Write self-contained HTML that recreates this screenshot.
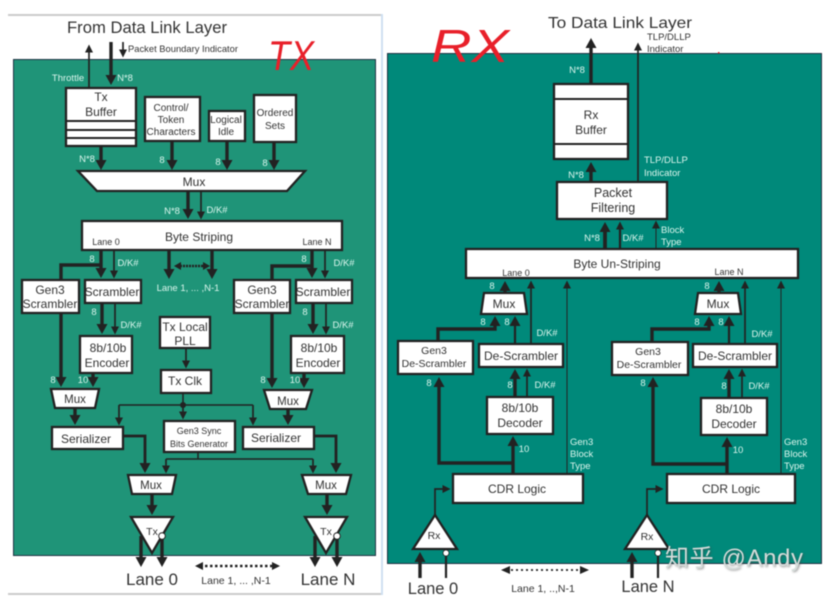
<!DOCTYPE html>
<html><head><meta charset="utf-8">
<style>
html,body{margin:0;padding:0;background:#fff;width:836px;height:610px;overflow:hidden}
svg{display:block;filter:blur(.45px)}
text{font-family:"Liberation Sans","Noto Sans CJK SC",sans-serif;fill:#333;text-anchor:middle}
.b{fill:#fff;stroke:#222;stroke-width:2.300}
.w{fill:#d9f5ec;font-size:9.500px}
.l{text-anchor:start}
.a3{stroke:#222;stroke-width:3.400;fill:none;marker-end:url(#a)}
.a2{stroke:#222;stroke-width:1.700;fill:none;marker-end:url(#s)}
.n3{stroke:#222;stroke-width:3.400;fill:none}
.n2{stroke:#222;stroke-width:1.500;fill:none}
</style></head><body>
<svg width="836" height="610" viewBox="0 0 836 610" xmlns="http://www.w3.org/2000/svg">
<defs>
<marker id="a" markerUnits="userSpaceOnUse" markerWidth="11" markerHeight="12" refX="6" refY="6" orient="auto"><path d="M0 .5L10 6L0 11.500Z" fill="#222"/></marker>
<marker id="s" markerUnits="userSpaceOnUse" markerWidth="9" markerHeight="9" refX="3.500" refY="4.500" orient="auto"><path d="M0 .5L8 4.500L0 8.500Z" fill="#222"/></marker>
</defs>
<rect x="8" y="14" width="375" height="2" fill="#ccc"/>
<rect x="8" y="593" width="375" height="2" fill="#ccc"/>
<rect x="381" y="14" width="2" height="581" fill="#cfe0f2"/>
<rect x="13.500" y="59.500" width="362" height="496" fill="#1f9478" stroke="#234" stroke-width="1"/>
<rect x="387.500" y="53.500" width="434" height="510" fill="#00897a" stroke="#234" stroke-width="1"/>

<!-- LEFT TX -->
<text x="147" y="33" font-size="16.500" textLength="160" lengthAdjust="spacingAndGlyphs">From Data Link Layer</text>
<text x="183" y="52" font-size="9.500" textLength="110" lengthAdjust="spacingAndGlyphs">Packet Boundary Indicator</text>
<g>
<line x1="89" y1="88" x2="89" y2="49" class="a2"/>
<line x1="111" y1="42" x2="111" y2="81" class="a3"/>
<line x1="123" y1="42" x2="123" y2="53" class="a2"/>
<line x1="101" y1="146" x2="101" y2="166" class="a3"/>
<line x1="172" y1="141" x2="172" y2="166" class="a3"/>
<line x1="227" y1="141" x2="227" y2="166" class="a3"/>
<line x1="274" y1="142" x2="274" y2="166" class="a3"/>
<line x1="188" y1="191" x2="188" y2="215" class="a3"/>
<line x1="201" y1="191" x2="201" y2="215" class="a2"/>
<line x1="101" y1="250" x2="101" y2="274" class="a3"/>
<path d="M101 265H61V280" class="n3"/>
<line x1="114" y1="250" x2="114" y2="274" class="a2"/>
<line x1="169" y1="251" x2="169" y2="275" class="a3"/>
<line x1="212" y1="251" x2="212" y2="275" class="a3"/>
<line x1="312" y1="250" x2="312" y2="274" class="a3"/>
<path d="M312 266H272V280" class="n3"/>
<line x1="325" y1="250" x2="325" y2="274" class="a2"/>
<line x1="61" y1="313" x2="61" y2="383" class="a3"/>
<line x1="272" y1="313" x2="272" y2="384" class="a3"/>
<line x1="102" y1="303" x2="102" y2="330" class="a3"/>
<line x1="115" y1="303" x2="115" y2="330" class="a2"/>
<line x1="313" y1="303" x2="313" y2="330" class="a3"/>
<line x1="326" y1="303" x2="326" y2="330" class="a2"/>
<line x1="93" y1="373" x2="93" y2="383" class="a3"/>
<line x1="304" y1="373" x2="304" y2="384" class="a3"/>
<line x1="75" y1="408" x2="75" y2="421" class="a3"/>
<line x1="288" y1="409" x2="288" y2="421" class="a3"/>
<line x1="186" y1="348" x2="186" y2="364" class="a2"/>
<path d="M183 393V405M119 405H253" class="n2"/>
<line x1="119" y1="405" x2="119" y2="421" class="a2"/>
<line x1="253" y1="405" x2="253" y2="421" class="a2"/>
<line x1="183" y1="405" x2="183" y2="415" class="a2"/>
<circle cx="183" cy="405" r="3" fill="#222"/>
<path d="M123 436H145V469" class="a3" style="stroke-width:2.800"/>
<path d="M314 436H336V469" class="a3" style="stroke-width:2.800"/>
<path d="M198 452V459M166 459H313" class="n2"/>
<line x1="166" y1="459" x2="166" y2="469" class="a2"/>
<line x1="313" y1="459" x2="313" y2="469" class="a2"/>
<line x1="152" y1="494" x2="152" y2="511" class="a3"/>
<line x1="327" y1="494" x2="327" y2="511" class="a3"/>
</g>
<rect class="b" x="66" y="88" width="70" height="58"/>
<path d="M66 121H136M66 130H136M66 138H136" stroke="#222" stroke-width="2" fill="none"/>
<rect class="b" x="145" y="97" width="55" height="44"/>
<rect class="b" x="209" y="111" width="36" height="30"/>
<rect class="b" x="254" y="95" width="42" height="47"/>
<polygon class="b" points="78,171 305,171 287,191 97,191"/>
<rect class="b" x="82" y="221" width="260" height="29"/>
<rect class="b" x="22" y="280" width="57" height="33"/>
<rect class="b" x="85" y="280" width="56" height="23"/>
<rect class="b" x="234" y="280" width="56" height="33"/>
<rect class="b" x="296" y="280" width="56" height="23"/>
<rect class="b" x="160" y="317" width="50" height="31"/>
<rect class="b" x="161" y="370" width="50" height="23"/>
<rect class="b" x="80" y="336" width="52" height="37"/>
<rect class="b" x="291" y="336" width="53" height="37"/>
<polygon class="b" points="51,389 99,389 95,408 55,408"/>
<polygon class="b" points="264,390 312,390 306,409 270,409"/>
<rect class="b" x="52" y="427" width="71" height="22"/>
<rect class="b" x="243" y="427" width="71" height="22"/>
<rect class="b" x="164" y="421" width="71" height="31"/>
<polygon class="b" points="128,475 176,475 172,494 132,494"/>
<polygon class="b" points="302,475 351,475 346,494 308,494"/>
<polygon class="b" points="131,517 173,517 152,553"/>
<polygon class="b" points="305,517 347,517 326,553"/>
<line x1="141" y1="536" x2="141" y2="563" class="a3"/>
<line x1="162" y1="536" x2="162" y2="563" class="a3"/>
<line x1="315" y1="536" x2="315" y2="563" class="a3"/>
<line x1="337" y1="536" x2="337" y2="563" class="a3"/>
<circle cx="162" cy="536" r="3.300" fill="#fff" stroke="#222"/>
<circle cx="337" cy="536" r="3.300" fill="#fff" stroke="#222"/>
<g font-size="12">
<text x="101" y="101">Tx</text><text x="101" y="116">Buffer</text>
<text x="171" y="111" font-size="10">Control/</text><text x="171" y="123" font-size="10">Token</text><text x="171" y="135" font-size="10">Characters</text>
<text x="226" y="123" font-size="10">Logical</text><text x="226" y="135" font-size="10">Idle</text>
<text x="275" y="116" font-size="10">Ordered</text><text x="275" y="129" font-size="10">Sets</text>
<text x="194" y="186">Mux</text>
<text x="199" y="241">Byte Striping</text>
<text x="106" y="245" font-size="9">Lane 0</text><text x="317" y="245" font-size="9">Lane N</text>
<text x="50" y="294">Gen3</text><text x="50" y="308">Scrambler</text>
<text x="112" y="296">Scrambler</text>
<text x="262" y="294">Gen3</text><text x="262" y="308">Scrambler</text>
<text x="323" y="296">Scrambler</text>
<text x="185" y="331">Tx Local</text><text x="185" y="345">PLL</text>
<text x="185" y="385">Tx Clk</text>
<text x="108" y="352">8b/10b</text><text x="107" y="367">Encoder</text>
<text x="319" y="352">8b/10b</text><text x="318" y="367">Encoder</text>
<text x="75" y="403" font-size="11.500">Mux</text><text x="288" y="405" font-size="11.500">Mux</text>
<text x="86" y="443">Serializer</text><text x="276" y="442">Serializer</text>
<text x="199" y="434" font-size="9">Gen3 Sync</text><text x="199" y="447" font-size="9">Bits Generator</text>
<text x="151" y="489" font-size="11.500">Mux</text><text x="326" y="489" font-size="11.500">Mux</text>
<text x="152" y="535" font-size="10.500">Tx</text><text x="326" y="535" font-size="10.500">Tx</text>
<text x="152" y="585" font-size="17">Lane 0</text><text x="328" y="585" font-size="17">Lane N</text>
<text x="236" y="584" font-size="10.500">Lane 1, ... ,N-1</text>
</g>
<g class="w">
<text class="w" x="68" y="81">Throttle</text>
<text class="w" x="125" y="81">N*8</text>
<text class="w" x="87" y="162">N*8</text>
<text class="w" x="162" y="163">8</text><text class="w" x="218" y="165">8</text><text class="w" x="265" y="166">8</text>
<text class="w" x="172" y="214">N*8</text><text class="w" x="217" y="213">D/K#</text>
<text class="w" x="92" y="262">8</text><text class="w" x="128" y="266">D/K#</text>
<text class="w" x="304" y="262">8</text><text class="w" x="344" y="266">D/K#</text>
<text class="w" x="188" y="291">Lane 1, ... ,N-1</text>
<text class="w" x="94" y="315">8</text><text class="w" x="131" y="328">D/K#</text>
<text class="w" x="305" y="315">8</text><text class="w" x="343" y="328">D/K#</text>
<text class="w" x="53" y="383">8</text><text class="w" x="83" y="383">10</text>
<text class="w" x="263" y="383">8</text><text class="w" x="295" y="383">10</text>
</g>
<path d="M180 266H204" stroke="#222" stroke-width="2.500" stroke-dasharray="2 1"/>
<path d="M174 266L181 262V270ZM210 266L203 262V270Z" fill="#222"/>
<path d="M200 566H274" stroke="#222" stroke-width="2.500" stroke-dasharray="2.500 2.500"/>
<path d="M195 566L203 562V570ZM280 566L272 562V570Z" fill="#222"/>

<!-- RIGHT RX -->
<text x="620" y="28" font-size="16" textLength="144" lengthAdjust="spacingAndGlyphs">To Data Link Layer</text>
<text class="l" x="647" y="40" font-size="9.500">TLP/DLLP</text>
<text class="l" x="647" y="52" font-size="9.500">Indicator</text>
<line x1="591" y1="84" x2="591" y2="42" class="a3"/>
<line x1="638" y1="182" x2="638" y2="47" class="a2"/>
<line x1="591" y1="182" x2="591" y2="166" class="a3"/>
<line x1="605" y1="249" x2="605" y2="226" class="a3" style="stroke-width:3.800"/>
<line x1="620" y1="249" x2="620" y2="226" class="a2" style="stroke-width:2.200"/>
<line x1="656" y1="249" x2="656" y2="225" class="a2" style="stroke-width:1"/>
<line x1="505" y1="292" x2="505" y2="285" class="a3"/>
<line x1="531" y1="344" x2="531" y2="285" class="a2"/>
<line x1="567" y1="474" x2="567" y2="285" class="a2" style="stroke-width:1"/>
<line x1="719" y1="292" x2="719" y2="285" class="a3"/>
<line x1="745" y1="344" x2="745" y2="285" class="a2"/>
<line x1="781" y1="474" x2="781" y2="285" class="a2" style="stroke-width:1"/>
<path d="M438 341V329H495V320" class="a3"/>
<line x1="515" y1="344" x2="515" y2="320" class="a3" style="stroke-width:2.200"/>
<path d="M652 342V329H709V320" class="a3"/>
<line x1="729" y1="344" x2="729" y2="320" class="a3" style="stroke-width:2.200"/>
<line x1="515" y1="397" x2="515" y2="373" class="a3"/>
<line x1="527" y1="397" x2="527" y2="373" class="a2"/>
<line x1="729" y1="398" x2="729" y2="373" class="a3"/>
<line x1="742" y1="398" x2="742" y2="373" class="a2"/>
<line x1="513" y1="474" x2="513" y2="440" class="a3"/>
<line x1="727" y1="474" x2="727" y2="441" class="a3"/>
<path d="M513 463H439V381" class="a3"/>
<path d="M727 464H653V381" class="a3"/>
<path d="M435 515V489H446" class="a2"/>
<path d="M647 515V489H659" class="a2"/>
<rect class="b" x="554" y="84" width="74" height="75"/>
<path d="M554 99H628M554 144H628" stroke="#222" stroke-width="2" fill="none"/>
<rect class="b" x="557" y="182" width="110" height="37"/>
<rect class="b" x="466" y="249" width="332" height="29"/>
<polygon class="b" points="484,293 524,293 527,314 481,314"/>
<polygon class="b" points="698,293 738,293 741,314 695,314"/>
<rect class="b" x="398" y="341" width="75" height="33"/>
<rect class="b" x="479" y="344" width="84" height="23"/>
<rect class="b" x="612" y="342" width="76" height="33"/>
<rect class="b" x="693" y="344" width="84" height="23"/>
<rect class="b" x="487" y="397" width="66" height="37"/>
<rect class="b" x="701" y="398" width="66" height="37"/>
<rect class="b" x="453" y="474" width="130" height="29"/>
<rect class="b" x="667" y="474" width="128" height="29"/>
<polygon class="b" points="413,549 457,549 435,515"/>
<polygon class="b" points="625,549 669,549 647,515"/>
<line x1="420" y1="578" x2="420" y2="556" class="a3"/>
<line x1="632" y1="578" x2="632" y2="556" class="a3"/>
<line x1="446" y1="578" x2="446" y2="553" class="n3" style="stroke-width:2.200"/>
<line x1="658" y1="578" x2="658" y2="553" class="n3" style="stroke-width:2.200"/>
<circle cx="446" cy="553" r="3" fill="#fff" stroke="#222" stroke-width=".8"/>
<circle cx="658" cy="553" r="3" fill="#fff" stroke="#222" stroke-width=".8"/>
<g font-size="12">
<text x="591" y="119">Rx</text><text x="591" y="134">Buffer</text>
<text x="613" y="197" font-size="12.500">Packet</text><text x="613" y="212" font-size="12.500">Filtering</text>
<text x="617" y="268">Byte Un-Striping</text>
<text x="516" y="276" font-size="9">Lane 0</text><text x="729" y="275" font-size="9">Lane N</text>
<text x="504" y="308">Mux</text><text x="718" y="308">Mux</text>
<text x="434" y="354" font-size="10.500">Gen3</text><text x="434" y="367" font-size="10.500">De-Scrambler</text>
<text x="521" y="360">De-Scrambler</text>
<text x="648" y="355" font-size="10.500">Gen3</text><text x="649" y="368" font-size="10.500">De-Scrambler</text>
<text x="735" y="360">De-Scrambler</text>
<text x="520" y="412">8b/10b</text><text x="520" y="427">Decoder</text>
<text x="734" y="413">8b/10b</text><text x="734" y="428">Decoder</text>
<text x="517" y="493">CDR Logic</text><text x="731" y="493">CDR Logic</text>
<text x="434" y="539" font-size="10.500">Rx</text><text x="647" y="540" font-size="10.500">Rx</text>
<text x="433" y="594" font-size="16.500">Lane 0</text><text x="648" y="592" font-size="16.500">Lane N</text>
<text x="543" y="592" font-size="10.500">Lane 1, ..,N-1</text>
</g>
<text class="w" x="577" y="73">N*8</text>
<text class="w" x="576" y="178">N*8</text>
<text class="w l" x="644" y="163">TLP/DLLP</text><text class="w l" x="644" y="176">Indicator</text>
<text class="w" x="592" y="241">N*8</text><text class="w" x="633" y="241">D/K#</text>
<text class="w l" x="661" y="233">Block</text><text class="w l" x="661" y="245">Type</text>
<text class="w" x="492" y="289">8</text><text class="w" x="707" y="289">8</text>
<text class="w" x="483" y="325">8</text><text class="w" x="507" y="325">8</text>
<text class="w" x="697" y="325">8</text><text class="w" x="721" y="325">8</text>
<text class="w" x="547" y="336">D/K#</text><text class="w" x="762" y="337">D/K#</text>
<text class="w" x="429" y="386">8</text><text class="w" x="510" y="388">8</text><text class="w" x="545" y="388">D/K#</text>
<text class="w" x="643" y="386">8</text><text class="w" x="724" y="389">8</text><text class="w" x="759" y="389">D/K#</text>
<text class="w" x="524" y="452">10</text><text class="w" x="738" y="453">10</text>
<text class="w l" x="570" y="445">Gen3</text><text class="w l" x="570" y="457">Block</text><text class="w l" x="570" y="469">Type</text>
<text class="w l" x="784" y="445">Gen3</text><text class="w l" x="784" y="457">Block</text><text class="w l" x="784" y="469">Type</text>
<path d="M506 570H584" stroke="#222" stroke-width="1.800" stroke-dasharray="2 3"/>
<path d="M501 570L510 566V574ZM589 570L580 566V574Z" fill="#222"/>

<text x="268" y="70" font-size="42" class="l" style="fill:#e8202a;font-style:italic" textLength="46" lengthAdjust="spacingAndGlyphs">TX</text>
<text x="431" y="62" font-size="46" class="l" style="fill:#e8202a;font-style:italic" textLength="78" lengthAdjust="spacingAndGlyphs">RX</text>
<rect x="718" y="52" width="1.500" height="1.500" fill="#e8202a"/>
<text x="665" y="566" font-size="24" class="l" style="fill:#d5dcda;filter:drop-shadow(1px 1px 1px rgba(70,70,70,.6))" textLength="138">知乎 @Andy</text>
</svg>
</body></html>
